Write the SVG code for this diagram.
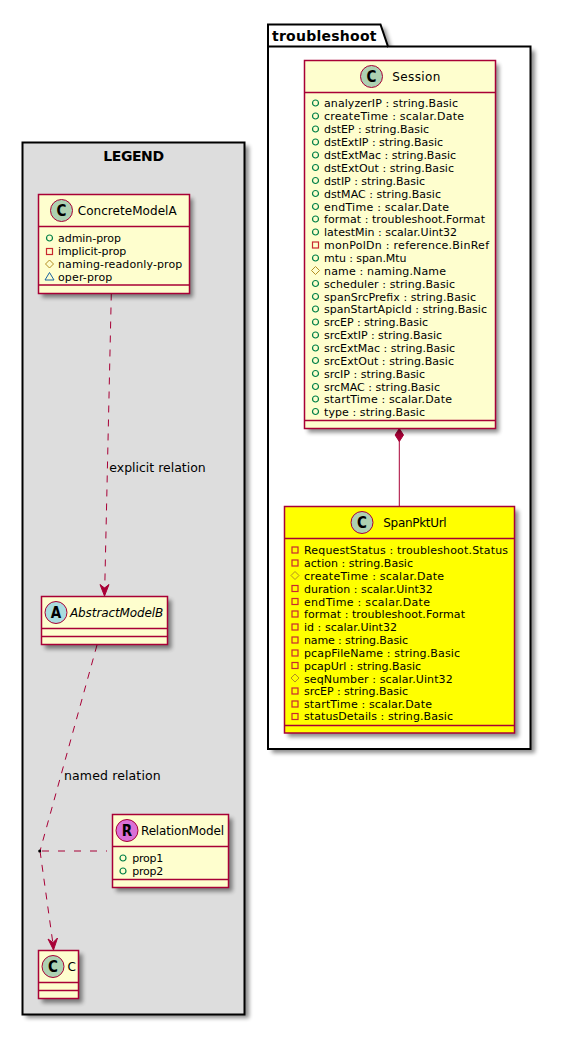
<svg xmlns="http://www.w3.org/2000/svg" width="564" height="1040" viewBox="0 0 564 1040">
<defs>
<style>
text{font-family:"DejaVu Sans",sans-serif;fill:#000}
.m{font-size:11px}
.n{font-size:12px}
.e{font-size:12.500px}
.b{fill:#FEFECE;stroke:#A80036;stroke-width:1.500}
.y{fill:#FFFF00}
.l{fill:none;stroke:#A80036;stroke-width:1}
.v{fill:none;stroke:#A80036;stroke-width:1.500}
.d{stroke-dasharray:7 7}
.i{font-size:15px;font-weight:bold;text-anchor:middle;font-family:"DejaVu Sans Condensed","DejaVu Sans",sans-serif}
.p{fill:#fff;stroke:#000;stroke-width:2}
.t{font-size:14px;font-weight:bold}
.h{fill:#000;opacity:.45}
</style>
<filter id="s" x="-10%" y="-10%" width="125%" height="125%"><feGaussianBlur stdDeviation="2"/></filter>
<g id="pub"><circle cx="0" cy="0" r="3" fill="none" stroke="#038048" stroke-width="1.200"/></g>
<g id="pri"><rect x="-3" y="-3" width="6" height="6" fill="none" stroke="#C82930" stroke-width="1.200"/></g>
<g id="pro"><path d="M0-4L4 0L0 4L-4 0Z" fill="none" stroke="#B38D22"/></g>
<g id="pkg"><path d="M0-4L4.500 3.500H-4.500Z" fill="none" stroke="#1963A0"/></g>
</defs>

<g id="pkg-troubleshoot">
<path class="h" d="M272 28H385L392 50.500H535V753H272Z" filter="url(#s)"/>
<path class="p" d="M268 46.500V24.500H380.500L388 46.500H530.500V749H268Z"/>
<path d="M268 46.500H388" fill="none" stroke="#000" stroke-width="2"/>
<text class="t" x="272" y="41" textLength="104.500">troubleshoot</text>
</g>

<g id="pkg-legend">
<rect class="h" x="26" y="146" width="223" height="872" filter="url(#s)"/>
<rect x="22.500" y="142.500" width="222" height="872" fill="#DDDDDD" stroke="#000" stroke-width="2"/>
<text class="t" x="103.300" y="160.700" textLength="60.700">LEGEND</text>
</g>

<g id="connectors">
<path class="l" d="M399.300 441V506.500"/>
<path d="M399.300 428.500L403.500 435L399.300 441.500L395.100 435Z" fill="#A80036" stroke="#A80036"/>
<path class="l d" d="M111.300 293.500L104.700 590"/>
<path d="M104.500 596L100 584.500L104.500 588L109 584.500Z" fill="#A80036" stroke="#A80036"/>
<path class="l d" d="M97 645L40 851"/>
<path class="l d" d="M40 851L53 944"/>
<path d="M53.500 950L48 939L53 942.500L57.500 938Z" fill="#A80036" stroke="#A80036"/>
<path class="l" stroke-dasharray="7 9" d="M42 851H107"/>
<circle cx="39.700" cy="851" r="1.500" fill="#000"/>
<text class="e" x="109.300" y="472" textLength="96.400">explicit relation</text>
<text class="e" x="64" y="780" textLength="96.700">named relation</text>
</g>

<g id="Session">
<rect class="h" x="308" y="64.500" width="191" height="368" filter="url(#s)"/>
<rect class="b" x="304.500" y="60.500" width="191" height="368"/>
<path class="v" d="M304.500 92.500H495.500M304.500 420.500H495.500"/>
<circle cx="371.500" cy="76.500" r="11" fill="#ADD1B2" stroke="#A80036"/>
<text class="i" x="371.500" y="82">C</text>
<text class="n" x="392.300" y="81" textLength="48">Session</text>
<use href="#pub" x="315.500" y="103"/><text class="m" x="324" y="107" textLength="134">analyzerIP : string.Basic</text>
<use href="#pub" x="315.500" y="116"/><text class="m" x="324" y="120" textLength="140">createTime : scalar.Date</text>
<use href="#pub" x="315.500" y="129"/><text class="m" x="324" y="133" textLength="105">dstEP : string.Basic</text>
<use href="#pub" x="315.500" y="142"/><text class="m" x="324" y="146" textLength="119">dstExtIP : string.Basic</text>
<use href="#pub" x="315.500" y="155"/><text class="m" x="324" y="158.500" textLength="132">dstExtMac : string.Basic</text>
<use href="#pub" x="315.500" y="167.500"/><text class="m" x="324" y="171.500" textLength="130">dstExtOut : string.Basic</text>
<use href="#pub" x="315.500" y="180.500"/><text class="m" x="324" y="184.500" textLength="101">dstIP : string.Basic</text>
<use href="#pub" x="315.500" y="193.500"/><text class="m" x="324" y="197.500" textLength="117">dstMAC : string.Basic</text>
<use href="#pub" x="315.500" y="206.500"/><text class="m" x="324" y="210.500" textLength="125">endTime : scalar.Date</text>
<use href="#pub" x="315.500" y="219"/><text class="m" x="324" y="223" textLength="161">format : troubleshoot.Format</text>
<use href="#pub" x="315.500" y="232"/><text class="m" x="324" y="236" textLength="133">latestMin : scalar.Uint32</text>
<use href="#pri" x="315.500" y="245"/><text class="m" x="324" y="249" textLength="165">monPolDn : reference.BinRef</text>
<use href="#pub" x="315.500" y="258"/><text class="m" x="324" y="262" textLength="82.500">mtu : span.Mtu</text>
<use href="#pro" x="315.500" y="270.500"/><text class="m" x="324" y="274.500" textLength="122">name : naming.Name</text>
<use href="#pub" x="315.500" y="283.500"/><text class="m" x="324" y="287.500" textLength="131">scheduler : string.Basic</text>
<use href="#pub" x="315.500" y="296.500"/><text class="m" x="324" y="300.500" textLength="152">spanSrcPrefix : string.Basic</text>
<use href="#pub" x="315.500" y="309"/><text class="m" x="324" y="313" textLength="163">spanStartApicId : string.Basic</text>
<use href="#pub" x="315.500" y="322"/><text class="m" x="324" y="326" textLength="104">srcEP : string.Basic</text>
<use href="#pub" x="315.500" y="335"/><text class="m" x="324" y="339" textLength="118">srcExtIP : string.Basic</text>
<use href="#pub" x="315.500" y="348"/><text class="m" x="324" y="352" textLength="131">srcExtMac : string.Basic</text>
<use href="#pub" x="315.500" y="360.500"/><text class="m" x="324" y="364.500" textLength="130">srcExtOut : string.Basic</text>
<use href="#pub" x="315.500" y="373.500"/><text class="m" x="324" y="377.500" textLength="101">srcIP : string.Basic</text>
<use href="#pub" x="315.500" y="386.500"/><text class="m" x="324" y="390.500" textLength="116">srcMAC : string.Basic</text>
<use href="#pub" x="315.500" y="399"/><text class="m" x="324" y="403" textLength="128">startTime : scalar.Date</text>
<use href="#pub" x="315.500" y="411.500"/><text class="m" x="324" y="415.500" textLength="101">type : string.Basic</text>
</g>

<g id="SpanPktUrl">
<rect class="h" x="288" y="510.500" width="230.500" height="226.500" filter="url(#s)"/>
<rect class="b y" x="284.500" y="506.500" width="230" height="226.500"/>
<path class="v" d="M284.500 538.500H514.500M284.500 725.500H514.500"/>
<circle cx="362" cy="522.500" r="11" fill="#ADD1B2" stroke="#A80036"/>
<text class="i" x="362" y="528">C</text>
<text class="n" x="383.300" y="527" textLength="63.400">SpanPktUrl</text>
<use href="#pri" x="295" y="550"/><text class="m" x="304" y="554" textLength="204">RequestStatus : troubleshoot.Status</text>
<use href="#pri" x="295" y="563"/><text class="m" x="304" y="566.500" textLength="109">action : string.Basic</text>
<use href="#pro" x="295" y="575.500"/><text class="m" x="304" y="579.500" textLength="140">createTime : scalar.Date</text>
<use href="#pri" x="295" y="588.500"/><text class="m" x="304" y="592.500" textLength="128.700">duration : scalar.Uint32</text>
<use href="#pri" x="295" y="601.500"/><text class="m" x="304" y="605.500" textLength="126">endTime : scalar.Date</text>
<use href="#pri" x="295" y="614"/><text class="m" x="304" y="618" textLength="161">format : troubleshoot.Format</text>
<use href="#pri" x="295" y="627"/><text class="m" x="304" y="631" textLength="93">id : scalar.Uint32</text>
<use href="#pri" x="295" y="640"/><text class="m" x="304" y="644" textLength="104">name : string.Basic</text>
<use href="#pri" x="295" y="653"/><text class="m" x="304" y="657" textLength="156">pcapFileName : string.Basic</text>
<use href="#pri" x="295" y="665.500"/><text class="m" x="304" y="669.500" textLength="117">pcapUrl : string.Basic</text>
<use href="#pro" x="295" y="678"/><text class="m" x="304" y="682.500" textLength="148.700">seqNumber : scalar.Uint32</text>
<use href="#pri" x="295" y="691"/><text class="m" x="304" y="695" textLength="104">srcEP : string.Basic</text>
<use href="#pri" x="295" y="704"/><text class="m" x="304" y="708" textLength="128">startTime : scalar.Date</text>
<use href="#pri" x="295" y="716.500"/><text class="m" x="304" y="720" textLength="149">statusDetails : string.Basic</text>
</g>

<g id="ConcreteModelA">
<rect class="h" x="42" y="198.500" width="151" height="99" filter="url(#s)"/>
<rect class="b" x="38.500" y="194.500" width="151" height="99"/>
<path class="v" d="M38.500 226.500H189.500M38.500 285H189.500"/>
<circle cx="61.500" cy="210.500" r="11" fill="#ADD1B2" stroke="#A80036"/>
<text class="i" x="61.500" y="216">C</text>
<text class="n" x="77.700" y="215" textLength="99">ConcreteModelA</text>
<use href="#pub" x="49.500" y="238"/><text class="m" x="58" y="242" textLength="63">admin-prop</text>
<use href="#pri" x="49.500" y="251.500"/><text class="m" x="58" y="254.500" textLength="68.300">implicit-prop</text>
<use href="#pro" x="49.500" y="264"/><text class="m" x="58" y="267.500" textLength="124.300">naming-readonly-prop</text>
<use href="#pkg" x="49.500" y="276.500"/><text class="m" x="58" y="280.500" textLength="54.300">oper-prop</text>
</g>

<g id="AbstractModelB">
<rect class="h" x="45" y="600" width="126.500" height="49" filter="url(#s)"/>
<rect class="b" x="41.500" y="596.500" width="126" height="48"/>
<path class="v" d="M41.500 628.500H167.500M41.500 636.500H167.500"/>
<circle cx="56" cy="612.500" r="11" fill="#A9DCDF" stroke="#A80036"/>
<text class="i" x="56" y="618">A</text>
<text class="n" x="70" y="617" font-style="italic" textLength="93.300">AbstractModelB</text>
</g>

<g id="RelationModel">
<rect class="h" x="116" y="818.500" width="116.500" height="73" filter="url(#s)"/>
<rect class="b" x="112.500" y="814.500" width="116" height="73"/>
<path class="v" d="M112.500 846.500H228.500M112.500 879.500H228.500"/>
<circle cx="127" cy="830.500" r="11" fill="#DA70D6" stroke="#A80036"/>
<text class="i" x="127" y="836">R</text>
<text class="n" x="141" y="835" textLength="83">RelationModel</text>
<use href="#pub" x="123" y="858"/><text class="m" x="132.300" y="861.500" textLength="31">prop1</text>
<use href="#pub" x="123" y="871"/><text class="m" x="132.300" y="874.500" textLength="31">prop2</text>
</g>

<g id="C">
<rect class="h" x="42" y="954" width="40.500" height="49" filter="url(#s)"/>
<rect class="b" x="38.500" y="950.500" width="40" height="48"/>
<path class="v" d="M38.500 982.500H78.500M38.500 990.500H78.500"/>
<circle cx="53" cy="966.500" r="11" fill="#ADD1B2" stroke="#A80036"/>
<text class="i" x="53" y="972">C</text>
<text class="n" x="67.500" y="971" textLength="7.500">C</text>
</g>
</svg>
